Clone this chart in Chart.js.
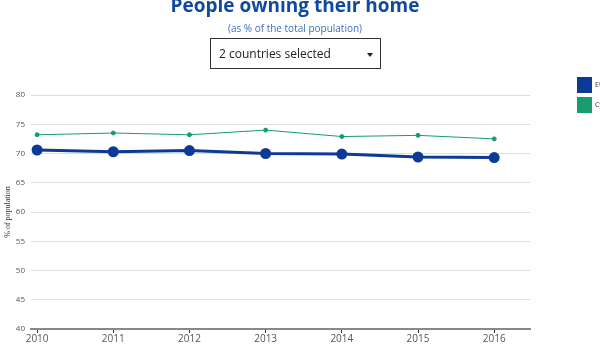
<!DOCTYPE html>
<html>
<head>
<meta charset="utf-8">
<script src="https://cdn.jsdelivr.net/npm/chart.js@4"></script>
<style>
  html, body { margin: 0; padding: 0; width: 600px; height: 347px; overflow: hidden; background: #fff; font-family: "Open Sans", sans-serif; }
  #wrap { position: relative; width: 600px; height: 347px; }
  #chart { position: absolute; left: 0; top: 0; }
  #title { position: absolute; left: 0; width: 590px; top: -8px; text-align: center; font-weight: bold; font-size: 19px; color: #0f4aa0; white-space: nowrap; }
  #subtitle { position: absolute; left: 0; width: 590px; top: 21px; text-align: center; font-size: 10px; color: #3a6fc4; }
  #select { position: absolute; left: 210px; top: 38px; width: 169px; height: 29px; border: 1px solid #333; box-sizing: content-box; font-size: 12px; color: #222; }
  #select span { position: absolute; left: 8px; top: 6px; }
  #select i { position: absolute; right: 7px; top: 14px; width: 0; height: 0; border-left: 3px solid transparent; border-right: 3px solid transparent; border-top: 4px solid #222; }
  #legend { position: absolute; left: 577px; top: 77px; font-size: 7px; color: #333; }
  #legend div { height: 16px; margin-bottom: 4px; white-space: nowrap; }
  #legend b { display: inline-block; width: 15px; height: 16px; vertical-align: middle; margin-right: 3px; }
</style>
</head>
<body>
<div id="wrap">
  <canvas id="chart" width="600" height="347"></canvas>
  <div id="title">People owning their home</div>
  <div id="subtitle">(as % of the total population)</div>
  <div id="select"><span>2 countries selected</span><i></i></div>
  <div id="legend"></div>
</div>
<script>
const years = ['2010', '2011', '2012', '2013', '2014', '2015', '2016'];
const euValues = [70.6, 70.3, 70.5, 70.0, 69.9, 69.4, 69.3];
const cyValues = [73.2, 73.5, 73.2, 74.0, 72.9, 73.1, 72.5];
const seriesNames = ['EU', 'Cyprus'];
const seriesColors = ['#0c3a94', '#179b6f'];

const toPoints = vals => vals.map((v, i) => ({ x: i, y: v }));

// html legend, cut off by the right edge like the original
const legend = document.getElementById('legend');
seriesNames.forEach((name, i) => {
  const row = document.createElement('div');
  row.innerHTML = '<b style="background:' + seriesColors[i] + '"></b>' + name;
  legend.appendChild(row);
});

const ctx = document.getElementById('chart').getContext('2d');

new Chart(ctx, {
  type: 'line',
  data: {
    datasets: [{
      label: seriesNames[0],
      data: toPoints(euValues),
      borderColor: seriesColors[0],
      backgroundColor: seriesColors[0],
      borderWidth: 3,
      pointRadius: 4,
      tension: 0
    }, {
      label: seriesNames[1],
      data: toPoints(cyValues),
      borderColor: seriesColors[1],
      backgroundColor: seriesColors[1],
      borderWidth: 1,
      pointRadius: 2,
      tension: 0
    }]
  },
  options: {
    responsive: false,
    animation: false,
    layout: { padding: { top: 95, right: 70, left: 0, bottom: 0 } },
    plugins: {
      legend: { display: false },
      tooltip: { enabled: false }
    },
    scales: {
      x: {
        type: 'linear',
        min: -0.08,
        max: 6.47,
        afterBuildTicks: scale => { scale.ticks = years.map((_, i) => ({ value: i })); },
        afterFit: scale => { scale.height = 18; },
        ticks: {
          callback: v => years[v],
          color: '#555',
          font: { family: 'Open Sans', size: 10 },
          padding: 0,
          maxRotation: 0
        },
        grid: { drawOnChartArea: false, drawTicks: true, tickLength: 4, color: '#333' },
        border: { color: '#888', width: 2 }
      },
      y: {
        min: 40,
        max: 80,
        afterFit: scale => { scale.width = 31; },
        ticks: {
          stepSize: 5,
          color: '#555',
          font: { family: 'Open Sans', size: 8 },
          padding: 6
        },
        grid: { color: '#ddd', drawTicks: false },
        border: { display: false },
        title: {
          display: true,
          text: '% of population',
          color: '#333',
          font: { family: 'Liberation Serif', size: 8 },
          padding: { top: 3, bottom: 0 }
        }
      }
    }
  }
});
</script>
</body>
</html>
